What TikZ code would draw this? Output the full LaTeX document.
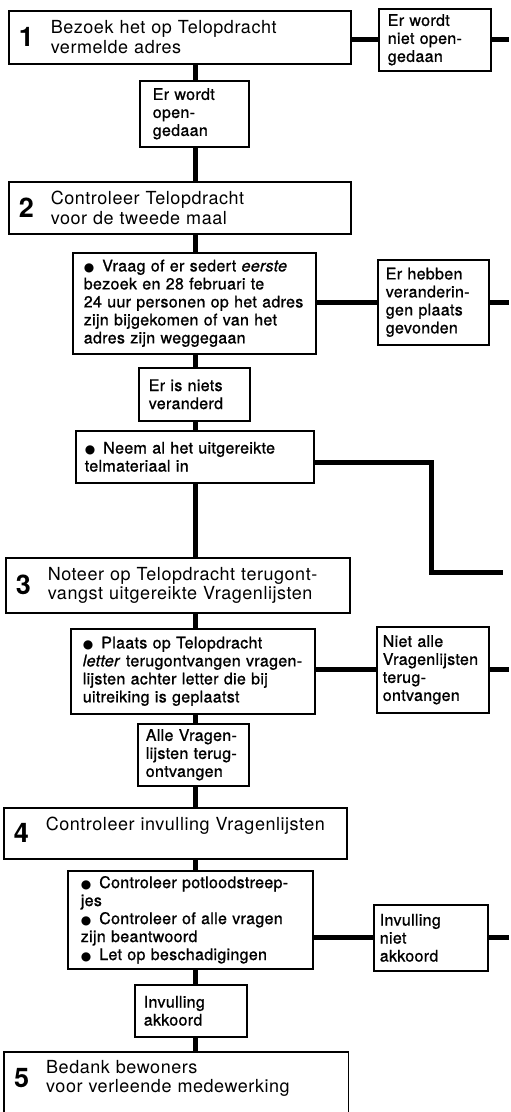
\documentclass[tikz,border=0pt]{standalone}
\usepackage{fontspec}
\usepackage{tikz}
\setmainfont{TeX Gyre Heros}
\newfontfamily\hoofd{TeX Gyre Heros}[LetterSpace=3]
\newfontfamily\klein{TeX Gyre Heros}[LetterSpace=2,FakeBold=1]
\newfontfamily\symb{DejaVu Sans}
\newcommand{\nr}[1]{\parbox[c]{32pt}{\fontsize{27}{27}\selectfont\bfseries #1}}
\newcommand{\stip}{{\symb\fontsize{12}{12}\selectfont ●}\hspace{8pt}}

\begin{document}
\begin{tikzpicture}[
  stapvak/.style={anchor=north west, inner xsep=10pt, inner ysep=0pt, align=left, text width=#1, font=\hoofd\fontsize{18}{19.5}\selectfont},
  hoofdstap/.style={stapvak=#1, draw, line width=1.6pt},
  vak/.style={draw, line width=1.6pt, anchor=north west, inner ysep=0pt, align=left, font=\klein\fontsize{16}{18}\selectfont},
  stroom/.style={line width=5pt}]
\path [use as bounding box, fill=white] (0pt,0pt) rectangle (511pt,-1112pt);
\coordinate (stam) at (195pt,0pt);
\coordinate (rand) at (509pt,0pt);
\coordinate (bocht) at (431pt,-572pt);
\coordinate (uit) at (503pt,-572pt);

\node [hoofdstap=322pt, minimum height=53pt] (b1) at (8pt,-10pt) {\nr{1}\parbox[c]{290pt}{Bezoek het op Telopdracht\\vermelde adres}};
\node [vak, inner xsep=9pt, text width=94pt, minimum height=62pt] (nopen) at (378pt,-8pt) {Er wordt\\niet open-\\gedaan};
\node [vak, inner xsep=13pt, text width=83pt, minimum height=66pt] (open) at (139pt,-80pt) {Er wordt\\open-\\gedaan};

\node [hoofdstap=322pt, minimum height=52pt] (b2) at (8pt,-181pt) {\nr{2}\parbox[c]{290pt}{Controleer Telopdracht\\voor de tweede maal}};
\node [vak, inner xsep=11pt, text width=221pt, minimum height=101pt] (vraag) at (72pt,-252pt) {\stip Vraag of er sedert \textit{eerste}\\bezoek en 28 februari te\\24 uur personen op het adres\\zijn bijgekomen of van het\\adres zijn weggegaan};
\node [vak, inner xsep=8pt, text width=95pt, minimum height=85pt] (veranderd) at (377pt,-259pt) {Er hebben\\veranderin-\\gen plaats\\gevonden};
\node [vak, inner xsep=10pt, text width=91pt, minimum height=53pt] (niets) at (138pt,-367pt) {Er is niets\\veranderd};
\node [vak, inner xsep=9pt, text width=220pt, minimum height=52pt] (neem) at (75pt,-430pt) {\stip Neem al het uitgereikte\\telmateriaal in};

\node [hoofdstap=324pt, minimum height=55pt] (b3) at (5pt,-557pt) {\nr{3}\parbox[c]{292pt}{Noteer op Telopdracht terugont-\\vangst uitgereikte Vragenlijsten}};
\node [vak, inner xsep=12pt, text width=220pt, minimum height=85pt] (plaats) at (70pt,-628pt) {\stip Plaats op Telopdracht\\\textit{letter} terugontvangen vragen-\\lijsten achter letter die bij\\uitreiking is geplaatst};
\node [vak, inner xsep=6pt, text width=100pt, minimum height=86pt] (nietalle) at (376pt,-626pt) {Niet alle\\Vragenlijsten\\terug-\\ontvangen};
\node [vak, inner xsep=8pt, text width=95pt, minimum height=62pt] (alle) at (137pt,-723pt) {Alle Vragen-\\lijsten terug-\\ontvangen};

\node [hoofdstap=323pt, minimum height=51pt] (b4) at (3pt,-807pt) {\nr{4}\parbox[c]{291pt}{Controleer invulling Vragenlijsten\\\mbox{}}};
\node [vak, inner xsep=13pt, text width=219pt, minimum height=98pt] (controle) at (67pt,-870pt) {\stip Controleer potloodstreep-\\jes\\\stip Controleer of alle vragen\\zijn beantwoord\\\stip Let op beschadigingen};
\node [vak, inner xsep=6pt, text width=102pt, minimum height=66pt] (nietakk) at (373pt,-904pt) {Invulling\\niet\\akkoord};
\node [vak, inner xsep=9pt, text width=94pt, minimum height=52pt] (akkoord) at (134pt,-984pt) {Invulling\\akkoord};

% laatste vak loopt door onder de rand
\node [stapvak=324pt, minimum height=52pt] (b5) at (4pt,-1052pt) {\nr{5}\parbox[c]{292pt}{Bedank bewoners\\voor verleende medewerking}};
\draw [line width=1.6pt] ([yshift=-40pt]b5.south west) |- (b5.north east) -- ([yshift=-40pt]b5.south east);

% hoofdlijn
\draw [stroom] (b1.south -| stam) -- (open.north -| stam);
\draw [stroom] (open.south -| stam) -- (b2.north -| stam);
\draw [stroom] (b2.south -| stam) -- (vraag.north -| stam);
\draw [stroom] (vraag.south -| stam) -- (niets.north -| stam);
\draw [stroom] (niets.south -| stam) -- (neem.north -| stam);
\draw [stroom] (neem.south -| stam) -- (b3.north -| stam);
\draw [stroom] (b3.south -| stam) -- (plaats.north -| stam);
\draw [stroom] (plaats.south -| stam) -- (alle.north -| stam);
\draw [stroom] (alle.south -| stam) -- (b4.north -| stam);
\draw [stroom] (b4.south -| stam) -- (controle.north -| stam);
\draw [stroom] (controle.south -| stam) -- (akkoord.north -| stam);
\draw [stroom] (akkoord.south -| stam) -- (b5.north -| stam);

% zijtakken
\draw [stroom] (nopen.west) -- (nopen.west -| b1.east);
\draw [stroom] (nopen.east) -- (nopen.east -| rand);
\draw [stroom] (veranderd.west) -- (veranderd.west -| vraag.east);
\draw [stroom] (veranderd.east) -- (veranderd.east -| rand);
\draw [stroom] ([yshift=-6pt]neem.east) -| (bocht) -- (uit);
\draw [stroom] (nietalle.west) -- (nietalle.west -| plaats.east);
\draw [stroom] (nietalle.east) -- (nietalle.east -| rand);
\draw [stroom] (nietakk.west) -- (nietakk.west -| controle.east);
\draw [stroom] (nietakk.east) -- (nietakk.east -| rand);

\end{tikzpicture}
\end{document}
